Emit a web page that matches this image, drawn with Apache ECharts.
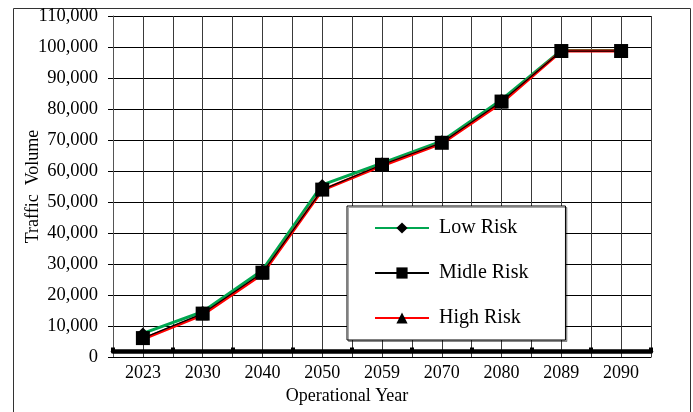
<!DOCTYPE html>
<html>
<head>
<meta charset="utf-8">
<script src="https://cdn.jsdelivr.net/npm/echarts@6/dist/echarts.min.js"></script>
<style>
html,body{margin:0;padding:0;background:#fff;}
#chart{width:693px;height:412px;}
</style>
</head>
<body>
<div id="chart"></div>
<script>
const categories = ['2023', '2030', '2040', '2050', '2059', '2070', '2080', '2089', '2090'];
const lowRisk   = [7600, 14600, 28000, 55500, 62500, 69600, 83000, 98900, 98900];
const midleRisk = [6100, 14000, 27200, 54000, 62000, 69100, 82400, 98700, 98700];
const highRisk  = [5800, 13600, 26800, 53800, 61700, 68900, 82000, 98700, 98700];
const seriesNames = ['Low Risk', 'Midle Risk', 'High Risk'];
const yTicks = { min: 0, max: 110000, interval: 10000 };

const FONT = 'Liberation Serif';
const chart = echarts.init(document.getElementById('chart'), null, { renderer: 'canvas' });

const option = {
  backgroundColor: '#fff',
  animation: false,
  graphic: [{
    type: 'rect', left: 11, top: 6, z: -10, silent: true,
    shape: { width: 677, height: 420 },
    style: { fill: 'none', stroke: '#333', lineWidth: 1 }
  }],
  grid: { left: 113, right: 42, top: 16, bottom: 55, containLabel: false },
  legend: {
    orient: 'vertical',
    left: 347, top: 206,
    data: seriesNames,
    backgroundColor: '#fff',
    borderColor: '#000',
    borderWidth: 1,
    shadowColor: 'rgba(0,0,0,0.35)',
    shadowOffsetX: 1.5, shadowOffsetY: 1.5, shadowBlur: 0,
    padding: [12, 37, 12, 27],
    itemWidth: 54, itemHeight: 14, itemGap: 25,
    textStyle: { fontFamily: FONT, fontSize: 20, color: '#000', lineHeight: 20, padding: [0, 0, 0, 5] }
  },
  xAxis: [{
    type: 'category',
    data: categories,
    boundaryGap: true,
    name: 'Operational Year',
    nameLocation: 'middle',
    nameGap: 30,
    nameMoveOverlap: false,
    nameTextStyle: { fontFamily: FONT, fontSize: 18, color: '#000', padding: [0, 70, 0, 0] },
    axisLine: { show: true, lineStyle: { color: '#000', width: 1 } },
    axisTick: { show: false },
    axisLabel: { fontFamily: FONT, fontSize: 18, color: '#000', margin: 7, interval: 0 },
    splitLine: { show: true, interval: 0, lineStyle: { color: '#3a3a3a', width: 1 } }
  }, {
    type: 'category',
    data: categories,
    boundaryGap: true,
    position: 'bottom',
    offset: -6,
    axisLine: { show: true, onZero: false, lineStyle: { color: '#000', width: 4.5 } },
    axisTick: { show: true, inside: true, length: 3.5, interval: 0, lineStyle: { color: '#000', width: 4 } },
    axisLabel: { show: false },
    splitLine: { show: true, interval: 0, alignWithLabel: true, lineStyle: { color: '#3a3a3a', width: 1 } }
  }],
  yAxis: {
    type: 'value',
    min: yTicks.min, max: yTicks.max, interval: yTicks.interval,
    name: 'Traffic  Volume',
    nameLocation: 'middle',
    nameGap: 71,
    nameMoveOverlap: false,
    nameTextStyle: { fontFamily: FONT, fontSize: 18, color: '#000' },
    axisLine: { show: true, lineStyle: { color: '#555', width: 1 } },
    axisTick: { show: true, length: 5, lineStyle: { color: '#000' } },
    axisLabel: {
      fontFamily: FONT, fontSize: 18.5, color: '#000', margin: 15,
      formatter: v => v.toLocaleString('en-US')
    },
    splitLine: { show: true, lineStyle: { color: '#000', width: 1 } }
  },
  series: [{
    name: seriesNames[0], type: 'line', data: lowRisk, xAxisIndex: 0,
    symbol: 'diamond', symbolSize: 12,
    lineStyle: { color: '#00a650', width: 3 },
    itemStyle: { color: '#000' }, z: 2
  }, {
    name: seriesNames[2], type: 'line', data: highRisk, xAxisIndex: 0,
    symbol: 'triangle', symbolSize: 11,
    lineStyle: { color: '#ff0000', width: 3 },
    itemStyle: { color: '#000' }, z: 3
  }, {
    name: seriesNames[1], type: 'line', data: midleRisk, xAxisIndex: 0,
    symbol: 'rect', symbolSize: 14,
    lineStyle: { color: '#000', width: 1.2 },
    itemStyle: { color: '#000' }, z: 4
  }]
};
chart.setOption(option);
</script>
</body>
</html>
